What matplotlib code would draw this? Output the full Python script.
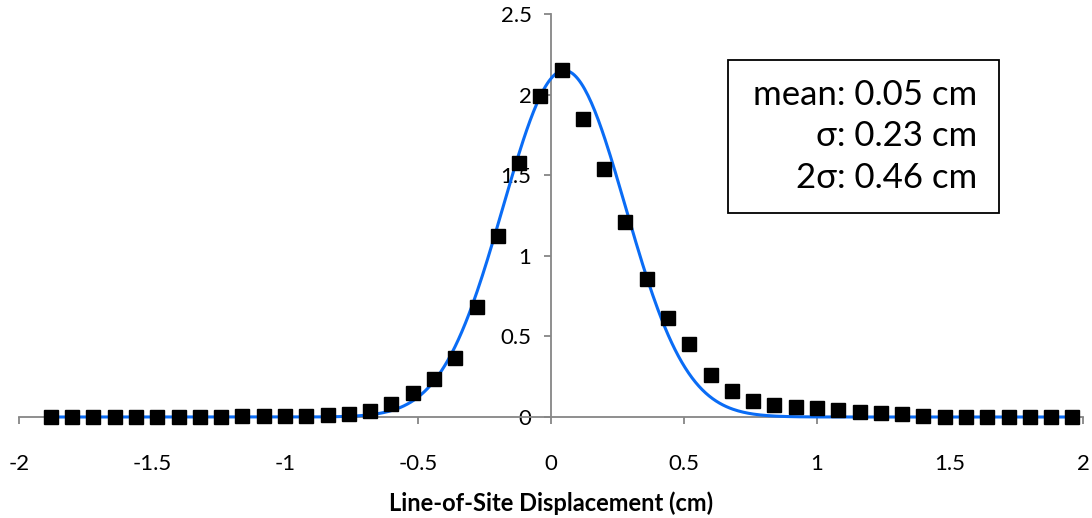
import numpy as np
import matplotlib
matplotlib.use("Agg")
import matplotlib.pyplot as plt
from matplotlib.patches import Rectangle

plt.rcParams['font.family'] = ['Lato', 'DejaVu Sans']
plt.rcParams['axes.unicode_minus'] = False

x_pts = [-1.88, -1.80, -1.72, -1.64, -1.56, -1.48, -1.40, -1.32, -1.24, -1.16,
         -1.08, -1.00, -0.92, -0.84, -0.76, -0.68, -0.60, -0.52, -0.44, -0.36,
         -0.28, -0.20, -0.12, -0.04, 0.04, 0.12, 0.20, 0.28, 0.36, 0.44,
         0.52, 0.60, 0.68, 0.76, 0.84, 0.92, 1.00, 1.08, 1.16, 1.24,
         1.32, 1.40, 1.48, 1.56, 1.64, 1.72, 1.80, 1.88, 1.96]
y_pts = [0.001, 0.001, 0.001, 0.001, 0.001, 0.001, 0.001, 0.002, 0.003, 0.004,
         0.005, 0.006, 0.008, 0.01, 0.02, 0.037, 0.083, 0.15, 0.238, 0.369,
         0.685, 1.125, 1.575, 1.99, 2.15, 1.85, 1.54, 1.21, 0.855, 0.616,
         0.453, 0.258, 0.16, 0.102, 0.072, 0.063, 0.053, 0.042, 0.034, 0.025,
         0.017, 0.008, 0.003, 0.003, 0.002, 0.001, 0.001, 0.001, 0.001]

# gaussian fit shown in the box
fit_mean = 0.05
fit_sigma = 0.23
fit_amp = 2.15

xticks = [-2, -1.5, -1, -0.5, 0, 0.5, 1, 1.5, 2]
xtick_labels = ['-2', '-1.5', '-1', '-0.5', '0', '0.5', '1', '1.5', '2']
yticks = [0, 0.5, 1, 1.5, 2, 2.5]
ytick_labels = ['0', '0.5', '1', '1.5', '2', '2.5']
box_lines = ['mean: 0.05 cm', '\u03c3: 0.23 cm', '2\u03c3: 0.46 cm']

W, H = 1092, 518
fig = plt.figure(figsize=(W / 100, H / 100), dpi=100)
ax = fig.add_axes([19 / W, 1 - 417 / H, (1083 - 19) / W, (417 - 14) / H])

xc = np.linspace(x_pts[0], x_pts[-1], 600)
yc = fit_amp * np.exp(-(xc - fit_mean) ** 2 / (2 * fit_sigma ** 2))
ax.plot(xc, yc, color='#0a6cf5', linewidth=2.2, zorder=3, clip_on=False)
ax.plot(x_pts, y_pts, linestyle='none', marker='s', markersize=9.5,
        color='black', zorder=4, clip_on=False)

ax.set_xlim(-2, 2)
ax.set_ylim(0, 2.5)

spine_col = '#868686'
for s in ['top', 'right']:
    ax.spines[s].set_visible(False)
ax.spines['left'].set_position(('data', 0))
ax.spines['left'].set_color(spine_col)
ax.spines['bottom'].set_color(spine_col)
ax.spines['left'].set_linewidth(1.3)
ax.spines['bottom'].set_linewidth(1.3)

ax.set_xticks(xticks)
ax.set_xticklabels(xtick_labels)
ax.set_yticks(yticks)
ax.set_yticklabels(ytick_labels)
ax.tick_params(axis='x', direction='out', length=5, width=1.3, color=spine_col,
               labelsize=16, pad=22, labelcolor='black')
ax.tick_params(axis='y', direction='out', length=5, width=1.3, color=spine_col,
               labelsize=16, pad=9, labelcolor='black')

ax.set_xlabel('Line-of-Site Displacement (cm)', fontsize=17, fontweight='bold',
              labelpad=12)

# stats box
fig.patches.append(Rectangle((728 / W, 1 - 213 / H), (999 - 728) / W, (213 - 60) / H,
                             transform=fig.transFigure, facecolor='white',
                             edgecolor='black', linewidth=1.3))
for i, txt in enumerate(box_lines):
    fig.text(977 / W, 1 - (95 + 41.5 * i) / H, txt, ha='right', va='center',
             fontsize=25, color='black')

fig.savefig('out.png', dpi=100)
